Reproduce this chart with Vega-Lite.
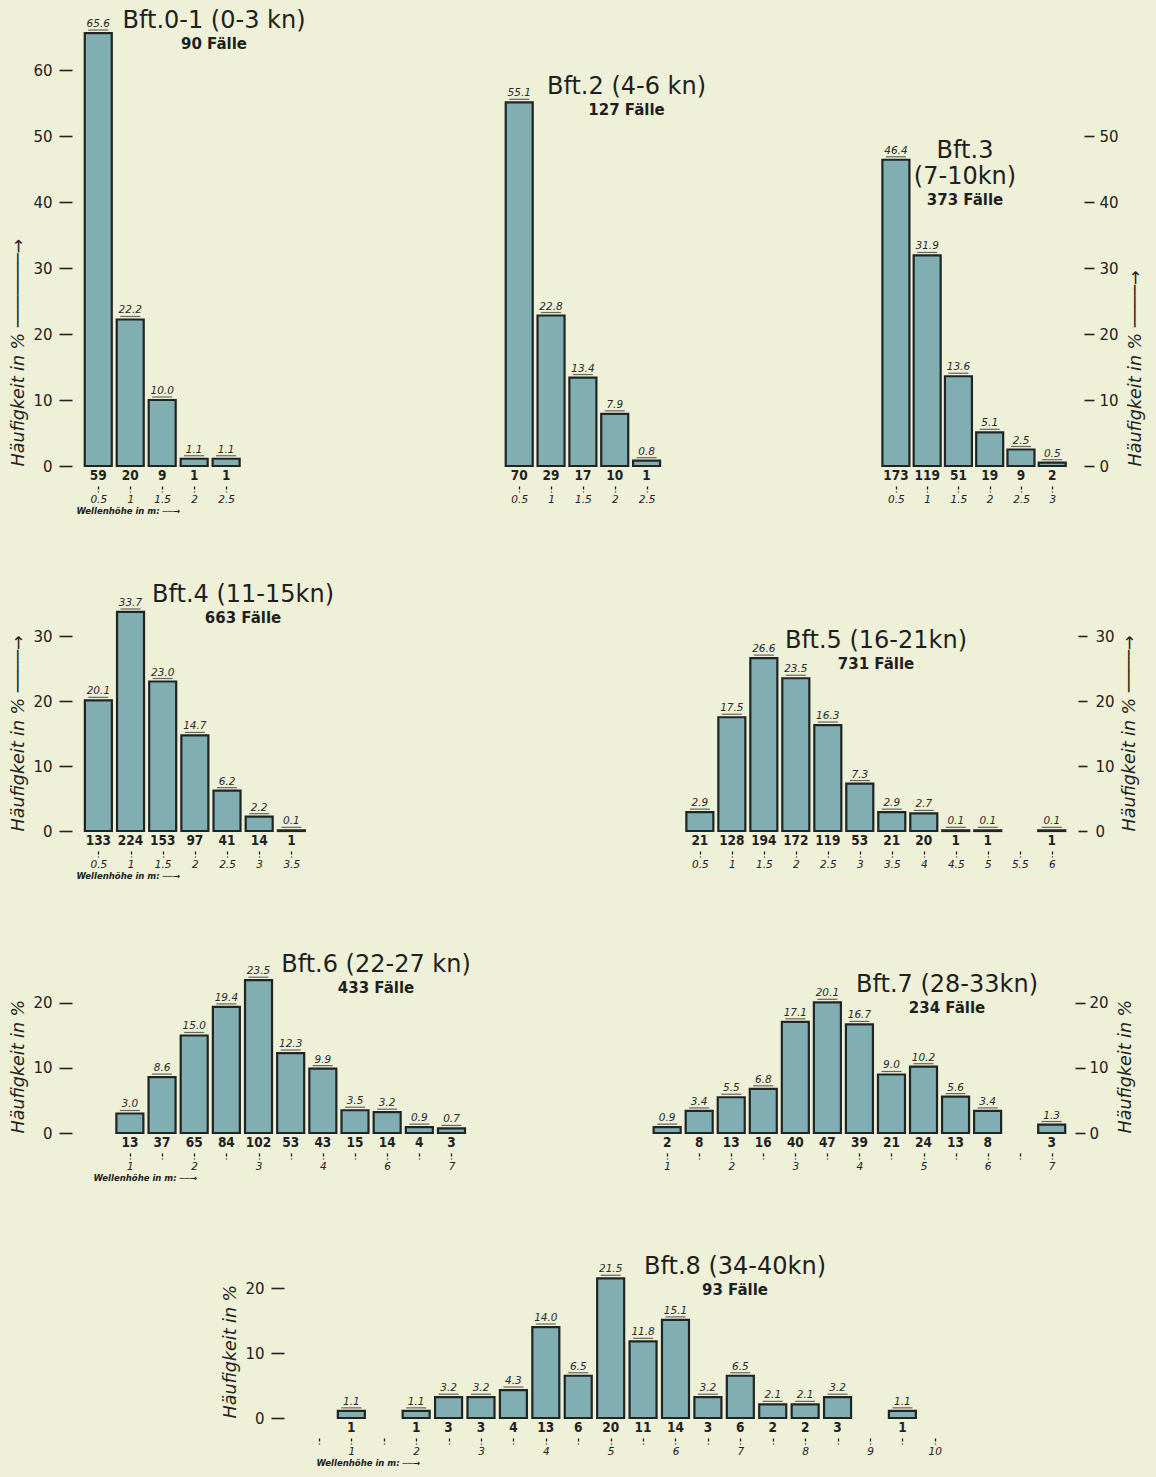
{
  "$schema": "https://vega.github.io/schema/vega-lite/v6.json",
  "background": "#eef0d7",
  "padding": {"left": 9, "top": 4, "right": 12, "bottom": 10},
  "spacing": 56,
  "vconcat": [
    {"hconcat": [
    {
      "width": 400, "height": 462,
      "title": {"text": "Bft.0-1 (0-3 kn)", "subtitle": "90 Fälle", "dx": -62, "offset": -48},
      "data": {"values": [
        {"h": 0.5, "pct": 65.6, "n": 59}, {"h": 1, "pct": 22.2, "n": 20}, {"h": 1.5, "pct": 10.0, "n": 9},
        {"h": 2, "pct": 1.1, "n": 1}, {"h": 2.5, "pct": 1.1, "n": 1}
      ]},
      "encoding": {
        "x": {"field": "h", "type": "quantitative", "scale": {"domain": [0.23, 6.33], "nice": false, "zero": false},
              "axis": {"values": [0.5, 1, 1.5, 2, 2.5], "format": ".1~f", "title": "Wellenhöhe in m: ──→"}},
        "y": {"field": "pct", "type": "quantitative", "scale": {"domain": [0, 70], "nice": false},
              "axis": {"orient": "left", "values": [0, 10, 20, 30, 40, 50, 60], "title": "Häufigkeit in % ───────→"}}
      },
      "layer": [
        {"mark": {"type": "bar", "size": 27, "fill": "#80aeb3", "stroke": "#1f2523", "strokeWidth": 2.2}},
        {"mark": {"type": "tick", "orient": "horizontal", "size": 20, "thickness": 1.2, "color": "#2b2b2b", "yOffset": -3}},
        {"mark": {"type": "text", "baseline": "bottom", "dy": -4, "font": "DejaVu Sans", "fontSize": 10.5, "fontStyle": "italic", "color": "#2b2b2b"},
         "encoding": {"text": {"field": "pct", "type": "quantitative", "format": ".1f"}}},
        {"mark": {"type": "text", "baseline": "top", "dy": 3, "font": "DejaVu Sans Condensed, DejaVu Sans", "fontSize": 13.5, "fontWeight": "bold", "color": "#222222"},
         "encoding": {"y": {"datum": 0, "type": "quantitative"}, "text": {"field": "n", "type": "quantitative"}}}
      ]
    },
    {
      "width": 373, "height": 462,
      "title": {"text": "Bft.2 (4-6 kn)", "subtitle": "127 Fälle", "dx": -36, "offset": -114},
      "data": {"values": [
        {"h": 0.5, "pct": 55.1, "n": 70}, {"h": 1, "pct": 22.8, "n": 29}, {"h": 1.5, "pct": 13.4, "n": 17},
        {"h": 2, "pct": 7.9, "n": 10}, {"h": 2.5, "pct": 0.8, "n": 1}
      ]},
      "encoding": {
        "x": {"field": "h", "type": "quantitative", "scale": {"domain": [-0.1, 5.6], "nice": false, "zero": false},
              "axis": {"values": [0.5, 1, 1.5, 2, 2.5], "format": ".1~f", "title": null}},
        "y": {"field": "pct", "type": "quantitative", "scale": {"domain": [0, 70], "nice": false}, "axis": null}
      },
      "layer": [
        {"mark": {"type": "bar", "size": 27, "fill": "#80aeb3", "stroke": "#1f2523", "strokeWidth": 2.2}},
        {"mark": {"type": "tick", "orient": "horizontal", "size": 20, "thickness": 1.2, "color": "#2b2b2b", "yOffset": -3}},
        {"mark": {"type": "text", "baseline": "bottom", "dy": -4, "font": "DejaVu Sans", "fontSize": 10.5, "fontStyle": "italic", "color": "#2b2b2b"},
         "encoding": {"text": {"field": "pct", "type": "quantitative", "format": ".1f"}}},
        {"mark": {"type": "text", "baseline": "top", "dy": 3, "font": "DejaVu Sans Condensed, DejaVu Sans", "fontSize": 13.5, "fontWeight": "bold", "color": "#222222"},
         "encoding": {"y": {"datum": 0, "type": "quantitative"}, "text": {"field": "n", "type": "quantitative"}}}
      ]
    },
    {
      "width": 232, "height": 462,
      "title": {"text": ["Bft.3", "(7-10kn)"], "subtitle": "373 Fälle", "dx": 0, "offset": -204},
      "data": {"values": [
        {"h": 0.5, "pct": 46.4, "n": 173}, {"h": 1, "pct": 31.9, "n": 119}, {"h": 1.5, "pct": 13.6, "n": 51},
        {"h": 2, "pct": 5.1, "n": 19}, {"h": 2.5, "pct": 2.5, "n": 9}, {"h": 3, "pct": 0.5, "n": 2}
      ]},
      "encoding": {
        "x": {"field": "h", "type": "quantitative", "scale": {"domain": [-0.17, 3.38], "nice": false, "zero": false},
              "axis": {"values": [0.5, 1, 1.5, 2, 2.5, 3], "format": ".1~f", "title": null}},
        "y": {"field": "pct", "type": "quantitative", "scale": {"domain": [0, 70], "nice": false},
              "axis": {"orient": "right", "values": [0, 10, 20, 30, 40, 50], "offset": 3, "tickSize": 10, "labelPadding": 5, "titleAngle": 270, "titleBaseline": "top", "titlePadding": 8, "title": "Häufigkeit in % ────→"}}
      },
      "layer": [
        {"mark": {"type": "bar", "size": 27, "fill": "#80aeb3", "stroke": "#1f2523", "strokeWidth": 2.2}},
        {"mark": {"type": "tick", "orient": "horizontal", "size": 20, "thickness": 1.2, "color": "#2b2b2b", "yOffset": -3}},
        {"mark": {"type": "text", "baseline": "bottom", "dy": -4, "font": "DejaVu Sans", "fontSize": 10.5, "fontStyle": "italic", "color": "#2b2b2b"},
         "encoding": {"text": {"field": "pct", "type": "quantitative", "format": ".1f"}}},
        {"mark": {"type": "text", "baseline": "top", "dy": 3, "font": "DejaVu Sans Condensed, DejaVu Sans", "fontSize": 13.5, "fontWeight": "bold", "color": "#222222"},
         "encoding": {"y": {"datum": 0, "type": "quantitative"}, "text": {"field": "n", "type": "quantitative"}}}
      ]
    }
    ], "spacing": 0, "bounds": "flush"},
    {"hconcat": [
    {
      "width": 560, "height": 260,
      "title": {"text": "Bft.4 (11-15kn)", "subtitle": "663 Fälle", "dx": -113, "offset": -55},
      "data": {"values": [
        {"h": 0.5, "pct": 20.1, "n": 133}, {"h": 1, "pct": 33.7, "n": 224}, {"h": 1.5, "pct": 23.0, "n": 153},
        {"h": 2, "pct": 14.7, "n": 97}, {"h": 2.5, "pct": 6.2, "n": 41}, {"h": 3, "pct": 2.2, "n": 14}, {"h": 3.5, "pct": 0.1, "n": 1}
      ]},
      "encoding": {
        "x": {"field": "h", "type": "quantitative", "scale": {"domain": [0.23, 8.78], "nice": false, "zero": false},
              "axis": {"values": [0.5, 1, 1.5, 2, 2.5, 3, 3.5], "format": ".1~f", "title": "Wellenhöhe in m: ──→"}},
        "y": {"field": "pct", "type": "quantitative", "scale": {"domain": [0, 40], "nice": false},
              "axis": {"orient": "left", "values": [0, 10, 20, 30], "title": "Häufigkeit in % ────→"}}
      },
      "layer": [
        {"mark": {"type": "bar", "size": 27, "fill": "#80aeb3", "stroke": "#1f2523", "strokeWidth": 2.2}},
        {"mark": {"type": "tick", "orient": "horizontal", "size": 20, "thickness": 1.2, "color": "#2b2b2b", "yOffset": -3}},
        {"mark": {"type": "text", "baseline": "bottom", "dy": -4, "font": "DejaVu Sans", "fontSize": 10.5, "fontStyle": "italic", "color": "#2b2b2b"},
         "encoding": {"text": {"field": "pct", "type": "quantitative", "format": ".1f"}}},
        {"mark": {"type": "text", "baseline": "top", "dy": 3, "font": "DejaVu Sans Condensed, DejaVu Sans", "fontSize": 13.5, "fontWeight": "bold", "color": "#222222"},
         "encoding": {"y": {"datum": 0, "type": "quantitative"}, "text": {"field": "n", "type": "quantitative"}}}
      ]
    },
    {
      "width": 438, "height": 260,
      "title": {"text": "Bft.5 (16-21kn)", "subtitle": "731 Fälle", "dx": 21, "offset": -101},
      "data": {"values": [
        {"h": 0.5, "pct": 2.9, "n": 21}, {"h": 1, "pct": 17.5, "n": 128}, {"h": 1.5, "pct": 26.6, "n": 194},
        {"h": 2, "pct": 23.5, "n": 172}, {"h": 2.5, "pct": 16.3, "n": 119}, {"h": 3, "pct": 7.3, "n": 53},
        {"h": 3.5, "pct": 2.9, "n": 21}, {"h": 4, "pct": 2.7, "n": 20}, {"h": 4.5, "pct": 0.1, "n": 1},
        {"h": 5, "pct": 0.1, "n": 1}, {"h": 6, "pct": 0.1, "n": 1}
      ]},
      "encoding": {
        "x": {"field": "h", "type": "quantitative", "scale": {"domain": [-0.42, 6.27], "nice": false, "zero": false},
              "axis": {"values": [0.5, 1, 1.5, 2, 2.5, 3, 3.5, 4, 4.5, 5, 5.5, 6], "format": ".1~f", "title": null}},
        "y": {"field": "pct", "type": "quantitative", "scale": {"domain": [0, 40], "nice": false},
              "axis": {"orient": "right", "values": [0, 10, 20, 30], "offset": 4, "tickSize": 9, "labelPadding": 8, "titleAngle": 270, "titleBaseline": "top", "titlePadding": 6, "title": "Häufigkeit in % ────→"}}
      },
      "layer": [
        {"mark": {"type": "bar", "size": 27, "fill": "#80aeb3", "stroke": "#1f2523", "strokeWidth": 2.2}},
        {"mark": {"type": "tick", "orient": "horizontal", "size": 20, "thickness": 1.2, "color": "#2b2b2b", "yOffset": -3}},
        {"mark": {"type": "text", "baseline": "bottom", "dy": -4, "font": "DejaVu Sans", "fontSize": 10.5, "fontStyle": "italic", "color": "#2b2b2b"},
         "encoding": {"text": {"field": "pct", "type": "quantitative", "format": ".1f"}}},
        {"mark": {"type": "text", "baseline": "top", "dy": 3, "font": "DejaVu Sans Condensed, DejaVu Sans", "fontSize": 13.5, "fontWeight": "bold", "color": "#222222"},
         "encoding": {"y": {"datum": 0, "type": "quantitative"}, "text": {"field": "n", "type": "quantitative"}}}
      ]
    }
    ], "spacing": 0, "bounds": "flush"},
    {"hconcat": [
    {
      "width": 540, "height": 197,
      "title": {"text": "Bft.6 (22-27 kn)", "subtitle": "433 Fälle", "dx": 30, "offset": -60},
      "data": {"values": [
        {"h": 1, "pct": 3.0, "n": 13}, {"h": 1.5, "pct": 8.6, "n": 37}, {"h": 2, "pct": 15.0, "n": 65},
        {"h": 2.5, "pct": 19.4, "n": 84}, {"h": 3, "pct": 23.5, "n": 102}, {"h": 3.5, "pct": 12.3, "n": 53},
        {"h": 4, "pct": 9.9, "n": 43}, {"h": 4.5, "pct": 3.5, "n": 15}, {"h": 5, "pct": 3.2, "n": 14},
        {"h": 5.5, "pct": 0.9, "n": 4}, {"h": 6, "pct": 0.7, "n": 3}
      ]},
      "encoding": {
        "x": {"field": "h", "type": "quantitative", "scale": {"domain": [0.24, 8.48], "nice": false, "zero": false},
              "axis": {"values": [1, 1.5, 2, 2.5, 3, 3.5, 4, 4.5, 5, 5.5, 6], "format": ".1~f",
                       "labelExpr": "datum.value == 5 ? '6' : datum.value == 6 ? '7' : (datum.value % 1 == 0 ? datum.label : '')",
                       "title": "Wellenhöhe in m: ──→", "titleX": 17}},
        "y": {"field": "pct", "type": "quantitative", "scale": {"domain": [0, 30.3], "nice": false},
              "axis": {"orient": "left", "values": [0, 10, 20], "title": "Häufigkeit in %"}}
      },
      "layer": [
        {"mark": {"type": "bar", "size": 27, "fill": "#80aeb3", "stroke": "#1f2523", "strokeWidth": 2.2}},
        {"mark": {"type": "tick", "orient": "horizontal", "size": 20, "thickness": 1.2, "color": "#2b2b2b", "yOffset": -3}},
        {"mark": {"type": "text", "baseline": "bottom", "dy": -4, "font": "DejaVu Sans", "fontSize": 10.5, "fontStyle": "italic", "color": "#2b2b2b"},
         "encoding": {"text": {"field": "pct", "type": "quantitative", "format": ".1f"}}},
        {"mark": {"type": "text", "baseline": "top", "dy": 3, "font": "DejaVu Sans Condensed, DejaVu Sans", "fontSize": 13.5, "fontWeight": "bold", "color": "#222222"},
         "encoding": {"y": {"datum": 0, "type": "quantitative"}, "text": {"field": "n", "type": "quantitative"}}}
      ]
    },
    {
      "width": 458, "height": 197,
      "title": {"text": "Bft.7 (28-33kn)", "subtitle": "234 Fälle", "dx": 102, "offset": -80},
      "data": {"values": [
        {"h": 1, "pct": 0.9, "n": 2}, {"h": 1.5, "pct": 3.4, "n": 8}, {"h": 2, "pct": 5.5, "n": 13},
        {"h": 2.5, "pct": 6.8, "n": 16}, {"h": 3, "pct": 17.1, "n": 40}, {"h": 3.5, "pct": 20.1, "n": 47},
        {"h": 4, "pct": 16.7, "n": 39}, {"h": 4.5, "pct": 9.0, "n": 21}, {"h": 5, "pct": 10.2, "n": 24},
        {"h": 5.5, "pct": 5.6, "n": 13}, {"h": 6, "pct": 3.4, "n": 8}, {"h": 7, "pct": 1.3, "n": 3}
      ]},
      "encoding": {
        "x": {"field": "h", "type": "quantitative", "scale": {"domain": [0.28, 7.27], "nice": false, "zero": false},
              "axis": {"values": [1, 1.5, 2, 2.5, 3, 3.5, 4, 4.5, 5, 5.5, 6, 6.5, 7], "format": ".1~f",
                       "labelExpr": "datum.value % 1 == 0 ? datum.label : ''", "title": null}},
        "y": {"field": "pct", "type": "quantitative", "scale": {"domain": [0, 30.3], "nice": false},
              "axis": {"orient": "right", "values": [0, 10, 20], "offset": 1, "tickSize": 10, "labelPadding": 4, "titleAngle": 270, "titleBaseline": "top", "titlePadding": 8, "title": "Häufigkeit in %"}}
      },
      "layer": [
        {"mark": {"type": "bar", "size": 27, "fill": "#80aeb3", "stroke": "#1f2523", "strokeWidth": 2.2}},
        {"mark": {"type": "tick", "orient": "horizontal", "size": 20, "thickness": 1.2, "color": "#2b2b2b", "yOffset": -3}},
        {"mark": {"type": "text", "baseline": "bottom", "dy": -4, "font": "DejaVu Sans", "fontSize": 10.5, "fontStyle": "italic", "color": "#2b2b2b"},
         "encoding": {"text": {"field": "pct", "type": "quantitative", "format": ".1f"}}},
        {"mark": {"type": "text", "baseline": "top", "dy": 3, "font": "DejaVu Sans Condensed, DejaVu Sans", "fontSize": 13.5, "fontWeight": "bold", "color": "#222222"},
         "encoding": {"y": {"datum": 0, "type": "quantitative"}, "text": {"field": "n", "type": "quantitative"}}}
      ]
    }
    ], "spacing": 0, "bounds": "flush"},
    {
      "width": 998, "height": 180,
      "title": {"text": "Bft.8 (34-40kn)", "subtitle": "93 Fälle", "dx": 160, "offset": -60},
      "data": {"values": [
        {"h": 1, "pct": 1.1, "n": 1}, {"h": 2, "pct": 1.1, "n": 1}, {"h": 2.5, "pct": 3.2, "n": 3},
        {"h": 3, "pct": 3.2, "n": 3}, {"h": 3.5, "pct": 4.3, "n": 4}, {"h": 4, "pct": 14.0, "n": 13},
        {"h": 4.5, "pct": 6.5, "n": 6}, {"h": 5, "pct": 21.5, "n": 20}, {"h": 5.5, "pct": 11.8, "n": 11},
        {"h": 6, "pct": 15.1, "n": 14}, {"h": 6.5, "pct": 3.2, "n": 3}, {"h": 7, "pct": 6.5, "n": 6},
        {"h": 7.5, "pct": 2.1, "n": 2}, {"h": 8, "pct": 2.1, "n": 2}, {"h": 8.5, "pct": 3.2, "n": 3},
        {"h": 9.5, "pct": 1.1, "n": 1}
      ]},
      "encoding": {
        "x": {"field": "h", "type": "quantitative", "scale": {"domain": [-3.17, 12.07], "nice": false, "zero": false},
              "axis": {"values": [0.5, 1, 1.5, 2, 2.5, 3, 3.5, 4, 4.5, 5, 5.5, 6, 6.5, 7, 7.5, 8, 8.5, 9, 9.5, 10], "format": ".1~f",
                       "labelExpr": "datum.value % 1 == 0 ? datum.label : ''", "title": "Wellenhöhe in m: ──→", "titleX": 240}},
        "y": {"field": "pct", "type": "quantitative", "scale": {"domain": [0, 27.7], "nice": false},
              "axis": {"orient": "left", "values": [0, 10, 20], "offset": -208, "title": "Häufigkeit in %"}}
      },
      "layer": [
        {"mark": {"type": "bar", "size": 27, "fill": "#80aeb3", "stroke": "#1f2523", "strokeWidth": 2.2}},
        {"mark": {"type": "tick", "orient": "horizontal", "size": 20, "thickness": 1.2, "color": "#2b2b2b", "yOffset": -3}},
        {"mark": {"type": "text", "baseline": "bottom", "dy": -4, "font": "DejaVu Sans", "fontSize": 10.5, "fontStyle": "italic", "color": "#2b2b2b"},
         "encoding": {"text": {"field": "pct", "type": "quantitative", "format": ".1f"}}},
        {"mark": {"type": "text", "baseline": "top", "dy": 3, "font": "DejaVu Sans Condensed, DejaVu Sans", "fontSize": 13.5, "fontWeight": "bold", "color": "#222222"},
         "encoding": {"y": {"datum": 0, "type": "quantitative"}, "text": {"field": "n", "type": "quantitative"}}}
      ]
    }
  ],
  "config": {
    "font": "DejaVu Sans",
    "view": {"stroke": null},
    "title": {"font": "DejaVu Sans", "fontSize": 24, "fontWeight": "normal", "color": "#1f1f1f",
              "subtitleFont": "DejaVu Sans", "subtitleFontSize": 15, "subtitleFontWeight": "bold", "subtitleColor": "#1f1f1f",
              "subtitlePadding": 4, "anchor": "middle", "frame": "group"},
    "axis": {"domain": false, "grid": false, "labelColor": "#222222", "tickColor": "#222222", "titleColor": "#222222"},
    "axisX": {"offset": 20, "tickSize": 6, "tickDash": [3, 2], "tickWidth": 1.3, "labelPadding": 2, "labelFontSize": 10.5,
              "labelFontStyle": "italic", "labelFlush": false, "labelOverlap": false, "titleFontSize": 8.5, "titleFontStyle": "italic",
              "titleFontWeight": "bold", "titleAnchor": "start", "titleAlign": "left", "titlePadding": 2},
    "axisY": {"offset": 4, "tickSize": 13, "tickWidth": 1.6, "labelFontSize": 15, "labelPadding": 7, "labelFlush": false,
              "labelOverlap": false, "titleFontSize": 17.5, "titleFontStyle": "italic", "titleFontWeight": "normal",
              "titleAnchor": "start", "titlePadding": 5}
  }
}
